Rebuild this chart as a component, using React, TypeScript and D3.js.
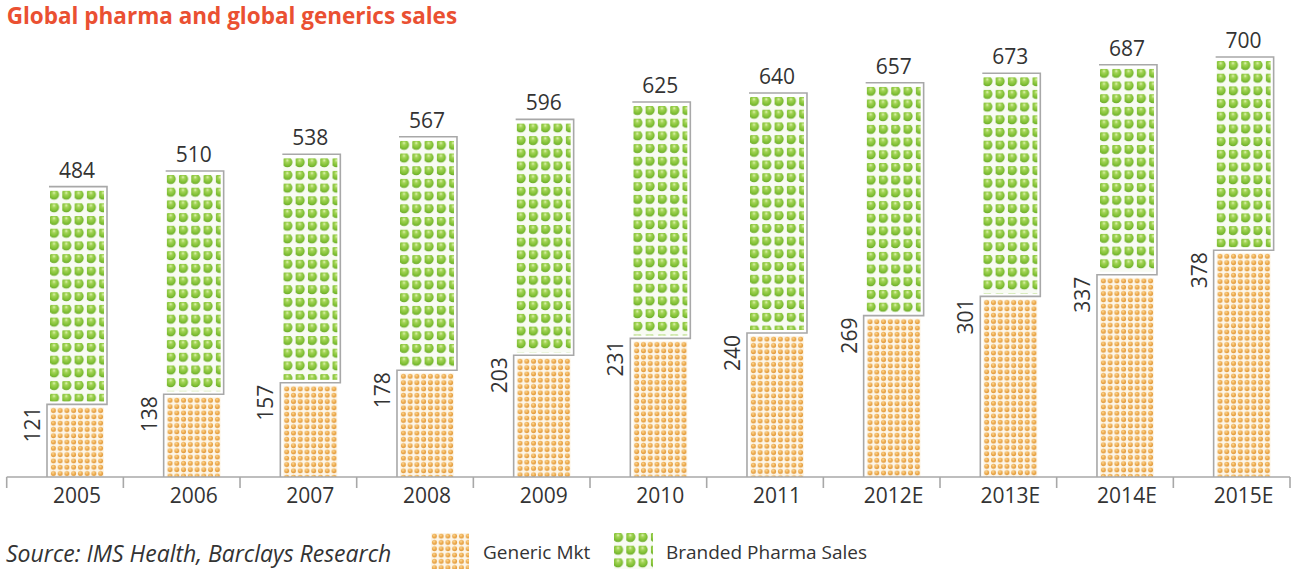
import * as d3 from "d3";
import React from "react";

const W = 1293;
const H = 569;

const years = ["2005", "2006", "2007", "2008", "2009", "2010", "2011", "2012E", "2013E", "2014E", "2015E"];
const genericMkt = [121, 138, 157, 178, 203, 231, 240, 269, 301, 337, 378];
const brandedPharma = [484, 510, 538, 567, 596, 625, 640, 657, 673, 687, 700];

const axisY = 477;
const barOffset = 43.3; // pattern left inside band
const barW = 54;
const font = "'Open Sans', 'Noto Sans', sans-serif";
const textColor = "#333";
const lineColor = "#a8a8a8";

const x = d3.scaleBand<string>().domain(years).range([6.7, 1290]);
const y = d3.scaleLinear().domain([0, 700]).range([axisY, 57]);

function App() {
  const rows = years.map((yr, i) => ({ yr, gen: genericMkt[i], tot: brandedPharma[i] }));

  return (
    <svg width={W} height={H} style={{ position: "absolute", left: 0, top: 0, background: "#fff" }}>
      <defs>
        <radialGradient id="orangeBall" cx="0.45" cy="0.4" r="0.6" fx="0.4" fy="0.3">
          <stop offset="0" stopColor="#fcdc9c" />
          <stop offset="0.5" stopColor="#f0b157" />
          <stop offset="1" stopColor="#dd9436" />
        </radialGradient>
        <radialGradient id="greenBall" cx="0.5" cy="0.45" r="0.55" fx="0.5" fy="0.3">
          <stop offset="0" stopColor="#e6f7c0" />
          <stop offset="0.3" stopColor="#a5d558" />
          <stop offset="0.75" stopColor="#80c034" />
          <stop offset="1" stopColor="#69a82a" />
        </radialGradient>
        <pattern id="genericDots" width={6.75} height={6.3} patternUnits="userSpaceOnUse">
          <rect width={6.75} height={6.3} fill="#fdf6e8" />
          <circle cx={3.4} cy={3.2} r={2.45} fill="url(#orangeBall)" />
        </pattern>
        <pattern id="brandedBalls" width={12.3} height={12.7} patternUnits="userSpaceOnUse">
          <rect width={12.3} height={12.7} fill="#f8fbf3" />
          <circle cx={4} cy={4} r={5.1} fill="url(#greenBall)" />
        </pattern>
      </defs>

      <text x={6.7} y={24} fill="#ea5032" fontFamily={font} fontWeight={700} fontSize={22.5}>
        Global pharma and global generics sales
      </text>

      {rows.map((d) => {
        const bx = (x(d.yr) as number) + barOffset;
        const gTop = y(d.gen);
        const tTop = y(d.tot);
        const outline = [
          [bx - 3, axisY],
          [bx - 3, gTop],
          [bx + barW + 3, gTop],
          [bx + barW + 3, tTop],
          [bx - 1, tTop],
        ];
        return (
          <g key={d.yr}>
            <g transform={`translate(${bx},${gTop + 3})`}>
              <rect width={barW} height={axisY - gTop - 3} fill="url(#genericDots)" />
            </g>
            <g transform={`translate(${bx},${tTop + 4})`}>
              <rect width={barW} height={gTop - tTop - 7} fill="url(#brandedBalls)" />
            </g>
            <path d={d3.line()(outline as [number, number][]) as string} fill="none" stroke={lineColor} strokeWidth={1.6} />
            <text x={bx + barW / 2} y={tTop - 9} textAnchor="middle" fontFamily={font} fontSize={21} fill={textColor}>
              {d.tot}
            </text>
            <text
              transform={`translate(${bx - 10},${gTop + 2}) rotate(-90)`}
              textAnchor="end"
              fontFamily={font}
              fontSize={21}
              fill={textColor}
            >
              {d.gen}
            </text>
            <text x={bx + barW / 2} y={503} textAnchor="middle" fontFamily={font} fontSize={21} fill={textColor}>
              {d.yr}
            </text>
          </g>
        );
      })}

      <line x1={x.range()[0]} x2={x.range()[1]} y1={axisY} y2={axisY} stroke={lineColor} strokeWidth={1.6} />
      {[...years.map((yr) => x(yr) as number), x.range()[1]].map((tx, i) => (
        <line key={i} x1={tx} x2={tx} y1={axisY} y2={axisY + 11} stroke={lineColor} strokeWidth={1.6} />
      ))}

      <text x={6} y={562} fontFamily={font} fontStyle="italic" fontSize={23} fill={textColor}>
        Source: IMS Health, Barclays Research
      </text>

      <g transform="translate(431,533)">
        <rect width={38} height={36} fill="url(#genericDots)" />
      </g>
      <text x={483} y={559} fontFamily={font} fontSize={19} fill={textColor}>
        Generic Mkt
      </text>
      <g transform="translate(614,533)">
        <rect width={39} height={36} fill="url(#brandedBalls)" />
      </g>
      <text x={666} y={559} fontFamily={font} fontSize={19} fill={textColor}>
        Branded Pharma Sales
      </text>
    </svg>
  );
}

export default App;
